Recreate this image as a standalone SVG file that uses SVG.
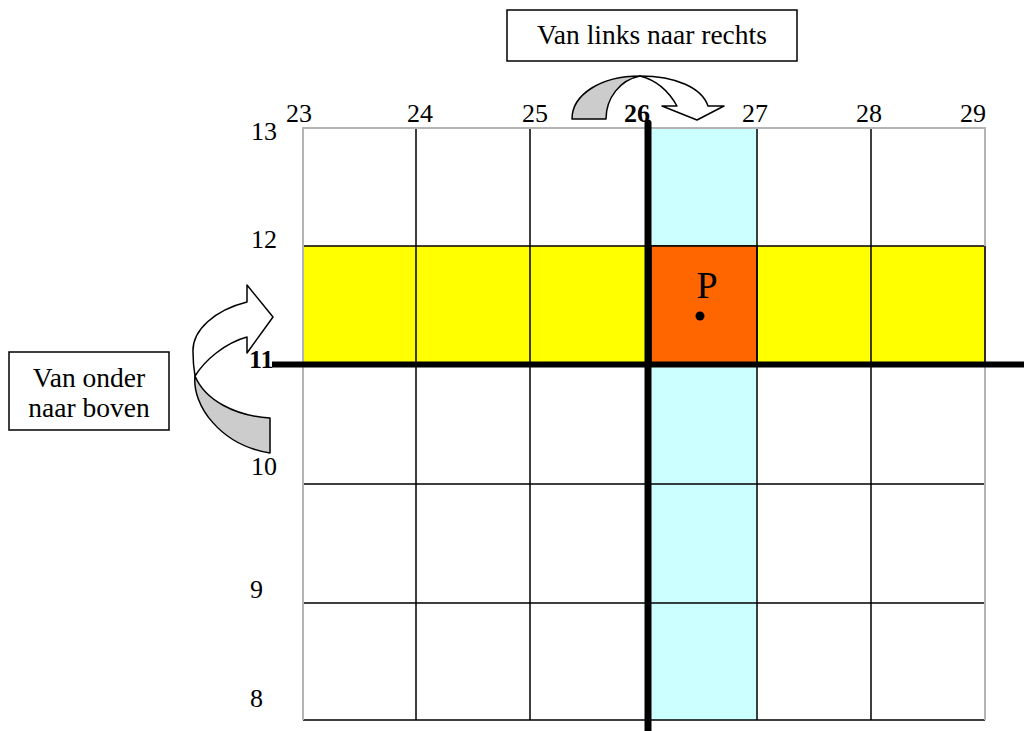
<svg xmlns="http://www.w3.org/2000/svg" width="1024" height="731" viewBox="0 0 1024 731">
<style>
text{font-family:"Liberation Serif","Times New Roman",serif;fill:#000}
.lbl{font-size:26px}
.box{font-size:27.5px}
.g{stroke:#000;stroke-width:1.5;fill:none}
.edge{stroke:#b4b4b4;stroke-width:2;fill:none}
.arrow{stroke:#000;stroke-width:1.5;stroke-linejoin:round}
</style>
<rect width="1024" height="731" fill="#fff"/>
<g id="grid">
<rect x="651" y="128" width="106" height="592" fill="#ccffff"/>
<rect x="303" y="246" width="682" height="118" fill="#ffff00" stroke="#000" stroke-width="1.5"/>
<rect x="651" y="246" width="106" height="118" fill="#ff6600" stroke="#000" stroke-width="1.5"/>
<path class="g" d="M416,128V720M530,128V720M757,128V720M871,128V720M303,484H985M303,603H985M303,720H985"/>
<path class="edge" d="M303,720V128H985V720"/>
<path class="g" d="M985,246V364"/>
</g>
<g id="axes">
<line x1="272" y1="364.5" x2="1024" y2="364.5" stroke="#000" stroke-width="6"/>
<line x1="648" y1="123" x2="648" y2="731" stroke="#000" stroke-width="7" stroke-linecap="round"/>
</g>
<g id="top-labels" class="lbl" text-anchor="middle">
<text x="299" y="122">23</text>
<text x="420" y="122">24</text>
<text x="535" y="122">25</text>
<text x="637" y="122" font-weight="bold">26</text>
<text x="755" y="122">27</text>
<text x="869" y="122">28</text>
<text x="973" y="122">29</text>
</g>
<g id="left-labels" class="lbl">
<text x="251" y="140">13</text>
<text x="251" y="248">12</text>
<text x="249" y="368" font-weight="bold">11</text>
<text x="251" y="475">10</text>
<text x="250" y="598">9</text>
<text x="250" y="707">8</text>
</g>
<g id="point-P">
<text x="707" y="298" font-size="38" text-anchor="middle">P</text>
<circle cx="700" cy="316" r="4.5" fill="#000"/>
</g>
<g id="box-top">
<rect x="507" y="10" width="290" height="51" fill="#fff" stroke="#000" stroke-width="1.5"/>
<text x="652" y="44" class="box" text-anchor="middle">Van links naar rechts</text>
</g>
<g id="box-left">
<rect x="9" y="352" width="160" height="78" fill="#fff" stroke="#000" stroke-width="1.5"/>
<text x="89" y="387" class="box" text-anchor="middle">Van onder</text>
<text x="89" y="417" class="box" text-anchor="middle">naar boven</text>
</g>
<g id="connectors">
<g id="arrow-top">
<path class="arrow" fill="#cccccc" d="M572,119 C572,95 600,76 640,76 C620,80 606,98 606,119 Z"/>
<path class="arrow" fill="#fff" d="M640,76 C676,76 702,88 708,106 L724,106 L697,120 L662,106 L677,106 C668,90 656,80 640,76 Z"/>
</g>
<g id="arrow-left">
<path class="arrow" fill="#cccccc" d="M195,376 C192,405 220,445 270,453 L270,418 C235,416 205,400 195,376 Z"/>
<path class="arrow" fill="#fff" d="M247,302 C215,310 192,330 193,352 C193,362 194,370 195,376 C205,360 225,343 247,337 L247,353 L273,317 L247,285 Z"/>
</g>
</g>
</svg>
